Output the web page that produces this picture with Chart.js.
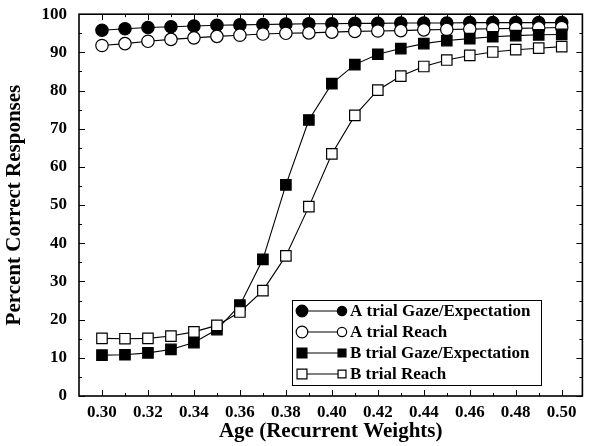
<!DOCTYPE html>
<html>
<head>
<meta charset="utf-8">
<script src="https://cdn.jsdelivr.net/npm/chart.js@4.4.1/dist/chart.umd.min.js"></script>
<style>
  html, body { margin: 0; padding: 0; background: #fff; }
  canvas { display: block; }
</style>
</head>
<body>
<canvas id="chart" width="591" height="446"></canvas>
<script>
// --- data ---
const ages = [0.30, 0.31, 0.32, 0.33, 0.34, 0.35, 0.36, 0.37, 0.38, 0.39, 0.40,
              0.41, 0.42, 0.43, 0.44, 0.45, 0.46, 0.47, 0.48, 0.49, 0.50];
const aGaze  = [95.8, 96.2, 96.5, 96.7, 96.9, 97.1, 97.2, 97.3, 97.4, 97.5, 97.5,
                97.6, 97.6, 97.7, 97.7, 97.7, 97.8, 97.8, 97.8, 97.8, 97.8];
const aReach = [91.8, 92.3, 92.9, 93.4, 93.8, 94.2, 94.5, 94.8, 95.0, 95.1, 95.3,
                95.5, 95.6, 95.7, 95.9, 96.0, 96.1, 96.2, 96.3, 96.4, 96.5];
const bGaze  = [10.7, 10.8, 11.3, 12.2, 14.0, 17.4, 23.8, 35.8, 55.3, 72.3, 81.8,
                86.8, 89.5, 91.0, 92.3, 93.1, 93.6, 94.1, 94.4, 94.6, 94.7];
const bReach = [15.1, 15.0, 15.1, 15.7, 16.8, 18.5, 22.0, 27.6, 36.7, 49.6, 63.4,
                73.5, 80.1, 83.8, 86.3, 88.0, 89.2, 90.1, 90.7, 91.1, 91.5];
const seriesNames = ["A trial Gaze/Expectation", "A trial Reach", "B trial Gaze/Expectation", "B trial Reach"];
const xTicks = [0.30, 0.32, 0.34, 0.36, 0.38, 0.40, 0.42, 0.44, 0.46, 0.48, 0.50];
const yTicks = [0, 10, 20, 30, 40, 50, 60, 70, 80, 90, 100];

const serif = "'Liberation Serif', 'Times New Roman', serif";
const tickFont = { family: serif, size: 17, weight: 'bold' };
const titleFont = { family: serif, size: 21, weight: 'bold' };

function series(values) {
    return values.map((v, i) => ({ x: ages[i], y: v }));
}

// marker look per series
const styles = [
    { pointStyle: 'circle', pointRadius: 6.2, pointBackgroundColor: '#000', order: 4 },
    { pointStyle: 'circle', pointRadius: 6.2, pointBackgroundColor: '#fff', order: 3 },
    { pointStyle: 'rect', pointRadius: 7.4, pointBackgroundColor: '#000', order: 2 },
    { pointStyle: 'rect', pointRadius: 7.4, pointBackgroundColor: '#fff', order: 1 }
];

const datasets = [aGaze, aReach, bGaze, bReach].map((vals, i) => Object.assign({
    label: seriesNames[i],
    data: series(vals),
    borderColor: '#000',
    borderWidth: 1.1,
    pointBorderColor: '#000',
    pointBorderWidth: 1.2,
    clip: false
}, styles[i]));

// frame, inward ticks and the boxed legend
const framePlugin = {
    id: 'frame',
    beforeDatasetsDraw(chart) {
        const { ctx, chartArea: a, scales: { x, y } } = chart;
        ctx.save();
        ctx.strokeStyle = '#000';
        ctx.lineWidth = 1;
        for (let v = 0; v <= 100; v += 5) {
            const py = Math.round(y.getPixelForValue(v)) + 0.5;
            const len = v % 10 === 0 ? 6 : 3;
            ctx.beginPath();
            ctx.moveTo(a.left, py); ctx.lineTo(a.left + len, py);
            ctx.moveTo(a.right, py); ctx.lineTo(a.right - len, py);
            ctx.stroke();
        }
        for (let k = 30; k <= 50; k++) {
            const px = Math.round(x.getPixelForValue(k / 100)) + 0.5;
            const len = k % 2 === 0 ? 6 : 3;
            ctx.beginPath();
            ctx.moveTo(px, a.bottom); ctx.lineTo(px, a.bottom - len);
            ctx.moveTo(px, a.top); ctx.lineTo(px, a.top + len);
            ctx.stroke();
        }
        ctx.lineWidth = 1.6;
        ctx.strokeRect(a.left, a.top, a.right - a.left, a.bottom - a.top);
        ctx.restore();
    },
    afterDraw(chart) {
        const ctx = chart.ctx;
        const bx = 292, by = 300, bw = 249, bh = 85;
        ctx.save();
        ctx.fillStyle = '#fff';
        ctx.fillRect(bx, by, bw, bh);
        ctx.strokeStyle = '#000';
        ctx.lineWidth = 1;
        ctx.strokeRect(bx + 0.5, by + 0.5, bw, bh);
        ctx.font = 'bold 17px ' + serif;
        ctx.textBaseline = 'middle';
        chart.data.datasets.forEach((ds, i) => {
            const cy = by + 11 + i * 21;
            ctx.beginPath();
            ctx.moveTo(302, cy); ctx.lineTo(342, cy);
            ctx.strokeStyle = '#000'; ctx.lineWidth = 1;
            ctx.stroke();
            [[302, 1], [342, 0.8]].forEach(([px, k]) => {
                const r = (ds.pointStyle === 'rect' ? 7 : 5.8) * k;
                ctx.fillStyle = ds.pointBackgroundColor;
                ctx.strokeStyle = '#000';
                ctx.lineWidth = 1.2;
                Chart.helpers.drawPoint(ctx, { pointStyle: ds.pointStyle, radius: r, rotation: 0, borderWidth: 1.2 }, px, cy);
            });
            ctx.fillStyle = '#000';
            ctx.fillText(ds.label, 350, cy + 1);
        });
        ctx.restore();
    }
};

new Chart(document.getElementById('chart'), {
    type: 'line',
    data: { datasets },
    plugins: [framePlugin],
    options: {
        responsive: false,
        animation: false,
        layout: { padding: { top: 6, right: 0, left: 0, bottom: 0 } },
        plugins: { legend: { display: false }, tooltip: { enabled: false } },
        scales: {
            x: {
                type: 'linear',
                min: 0.29,
                max: 0.509,
                grid: { display: false },
                border: { display: false },
                afterBuildTicks: s => { s.ticks = xTicks.map(v => ({ value: v })); },
                afterFit: s => { s.height = 50; },
                ticks: { font: tickFont, color: '#000', padding: -2, maxRotation: 0, callback: v => v.toFixed(2) },
                title: { display: true, text: 'Age (Recurrent Weights)', font: titleFont, color: '#000', padding: { top: 0, bottom: 2 } }
            },
            y: {
                min: 0,
                max: 100,
                grid: { display: false },
                border: { display: false },
                afterBuildTicks: s => { s.ticks = yTicks.map(v => ({ value: v })); },
                afterFit: s => { s.width = 79; },
                ticks: { font: tickFont, color: '#000', padding: 4 },
                title: { display: true, text: 'Percent Correct Responses', font: titleFont, color: '#000', padding: { top: 2, bottom: 0 } }
            }
        }
    }
});
</script>
</body>
</html>
